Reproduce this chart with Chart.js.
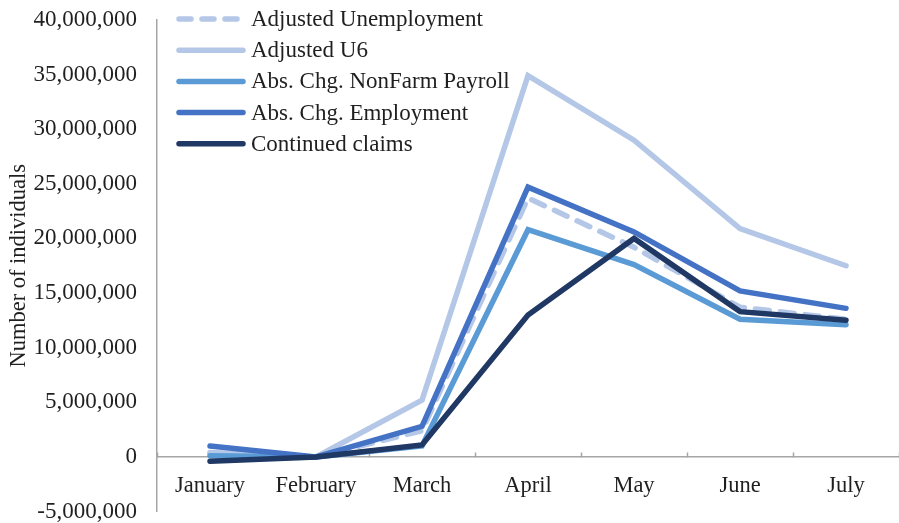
<!DOCTYPE html>
<html>
<head>
<meta charset="utf-8">
<script src="https://cdn.jsdelivr.net/npm/chart.js@4/dist/chart.umd.min.js"></script>
<style>
  html, body { margin: 0; padding: 0; background: #fff; }
  #wrap { width: 899px; height: 523px; }
</style>
</head>
<body>
<div id="wrap"><canvas id="myChart" width="899" height="523"></canvas></div>
<script>
// data
var months = ['January', 'February', 'March', 'April', 'May', 'June', 'July'];
var adjustedUnemployment = [300000, 0, 2400000, 23700000, 19200000, 13700000, 12600000];
var adjustedU6 = [400000, 0, 5200000, 34900000, 29000000, 20900000, 17500000];
var nonFarmPayroll = [100000, 0, 1000000, 20800000, 17600000, 12600000, 12100000];
var absChgEmployment = [1000000, 0, 2800000, 24700000, 20600000, 15200000, 13600000];
var continuedClaims = [-400000, 0, 1100000, 13000000, 20000000, 13300000, 12500000];
var yMin = -5000000, yMax = 40000000, yStep = 5000000;

var fontFamily = '"Liberation Serif", "Times New Roman", serif';
var textColor = '#1f1f1f';
var axisColor = '#a6a6a6';

function makeSet(label, data, color, order, dash) {
	return {
		label: label,
		data: data,
		borderColor: color,
		backgroundColor: color,
		borderWidth: 5.5,
		borderDash: dash || [],
		borderCapStyle: 'round',
		pointRadius: 0,
		tension: 0,
		fill: false,
		order: order
	};
}

// legend drawn inside the plot, top left
var innerLegend = {
	id: 'innerLegend',
	afterDatasetsDraw: function(chart) {
		var ctx = chart.ctx;
		var sets = chart.data.datasets;
		var x0 = 176, x1 = 246, y = 19, step = 31.2;
		ctx.save();
		ctx.font = '23px ' + fontFamily;
		ctx.textBaseline = 'middle';
		ctx.fillStyle = textColor;
		for (var i = 0; i < sets.length; i++) {
			var ly = y + i * step;
			ctx.beginPath();
			ctx.lineWidth = 5.5;
			ctx.lineCap = 'round';
			ctx.strokeStyle = sets[i].borderColor;
			ctx.setLineDash(sets[i].borderDash.length ? [12, 11] : []);
			ctx.moveTo(x0 + 3, ly);
			ctx.lineTo(x1 - 3, ly);
			ctx.stroke();
			ctx.setLineDash([]);
			ctx.fillText(sets[i].label, x1 + 5, ly + 1);
		}
		ctx.restore();
	}
};

var chart = new Chart(document.getElementById('myChart').getContext('2d'), {
	type: 'line',
	data: {
		labels: months,
		datasets: [
			makeSet('Adjusted Unemployment', adjustedUnemployment, '#b4c7e7', 4, [14, 11]),
			makeSet('Adjusted U6', adjustedU6, '#b4c7e7', 5),
			makeSet('Abs. Chg. NonFarm Payroll', nonFarmPayroll, '#5b9bd5', 3),
			makeSet('Abs. Chg. Employment', absChgEmployment, '#4472c4', 2),
			makeSet('Continued claims', continuedClaims, '#203864', 1)
		]
	},
	options: {
		responsive: false,
		devicePixelRatio: 1,
		animation: false,
		layout: { padding: { top: 20, right: 0, bottom: 0, left: 0 } },
		plugins: {
			legend: { display: false },
			tooltip: { enabled: false }
		},
		scales: {
			x: {
				position: { y: 0 },
				offset: true,
				afterFit: function(scale) { scale.height = 0; },
				grid: {
					offset: true,
					drawOnChartArea: false,
					drawTicks: true,
					tickLength: -5,
					tickColor: axisColor,
					tickWidth: 1.5
				},
				border: { display: true, color: axisColor, width: 1.5 },
				ticks: {
					color: textColor,
					padding: 21,
					maxRotation: 0,
					font: { family: fontFamily, size: 22.5 }
				}
			},
			y: {
				min: yMin,
				max: yMax,
				afterFit: function(scale) { scale.width = 157; },
				// invisible tick marks keep the labels clear of the axis line
				grid: {
					display: true,
					drawOnChartArea: false,
					drawTicks: true,
					tickLength: 20,
					tickColor: 'rgba(0,0,0,0)'
				},
				border: { display: true, color: axisColor, width: 1.5 },
				ticks: {
					stepSize: yStep,
					padding: 0,
					color: textColor,
					font: { family: fontFamily, size: 23, lineHeight: 1 },
					callback: function(v) { return v.toLocaleString('en-US'); }
				},
				title: {
					display: true,
					text: 'Number of individuals',
					color: textColor,
					padding: { top: 6, bottom: 0 },
					font: { family: fontFamily, size: 22.5 }
				}
			}
		}
	},
	plugins: [innerLegend]
});
</script>
</body>
</html>
